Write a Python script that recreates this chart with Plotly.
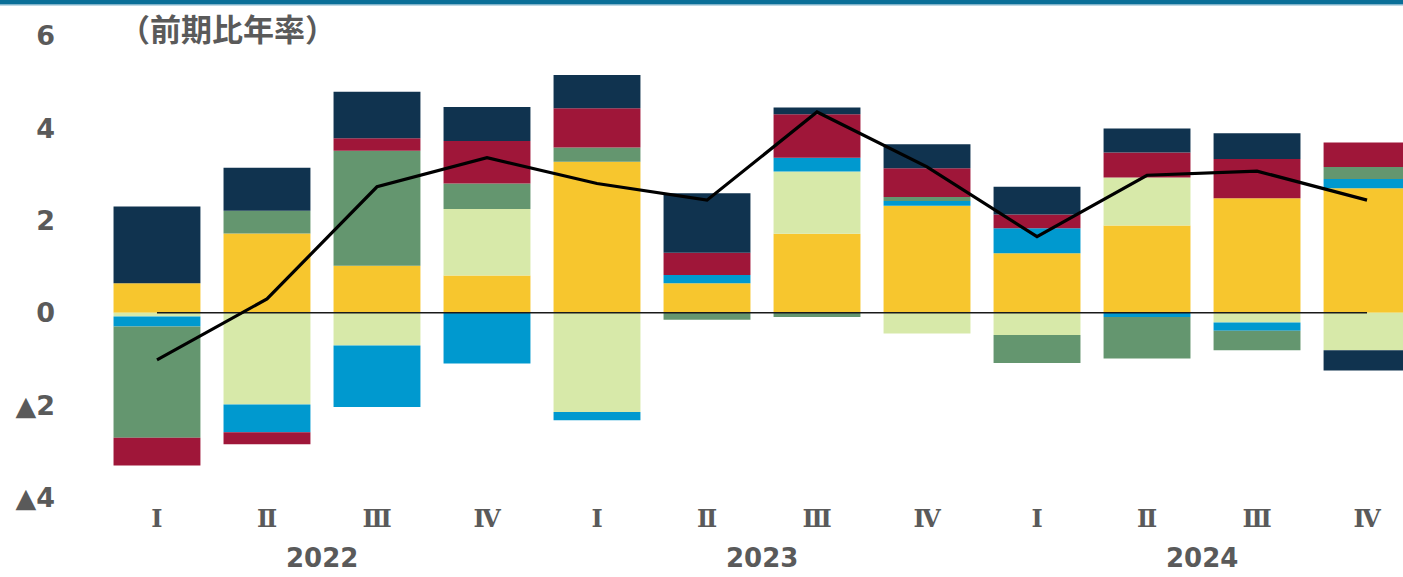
import plotly.graph_objects as go

# ---- data ----
quarters = ["Ⅰ", "Ⅱ", "Ⅲ", "Ⅳ", "Ⅰ", "Ⅱ", "Ⅲ", "Ⅳ", "Ⅰ", "Ⅱ", "Ⅲ", "Ⅳ"]
years = ["2022", "2023", "2024"]

yellow = [0.64, 1.72, 1.02, 0.81, 3.27, 0.64, 1.71, 2.32, 1.29, 1.89, 2.48, 2.70]
lightgreen = [-0.08, -1.99, -0.71, 1.44, -2.15, 0.0, 1.35, -0.45, -0.48, 1.04, -0.21, -0.81]
blue = [-0.22, -0.60, -1.33, -1.10, -0.18, 0.18, 0.30, 0.10, 0.54, -0.09, -0.18, 0.20]
green = [-2.41, 0.49, 2.49, 0.55, 0.31, -0.15, -0.09, 0.09, -0.61, -0.90, -0.42, 0.26]
crimson = [-0.60, -0.26, 0.27, 0.92, 0.85, 0.48, 0.94, 0.62, 0.30, 0.54, 0.85, 0.53]
navy = [1.66, 0.93, 1.01, 0.74, 0.72, 1.29, 0.15, 0.52, 0.60, 0.52, 0.56, -0.44]
total = [-1.02, 0.30, 2.73, 3.36, 2.80, 2.44, 4.35, 3.16, 1.65, 2.98, 3.07, 2.44]
zero = [0] * 12

y_tickvals = [-4, -2, 0, 2, 4, 6]
y_ticktext = ["▲4", "▲2", "0", "2", "4", "6"]

x = list(range(len(quarters)))

series = [
    (yellow, "#F7C62E"),
    (lightgreen, "#D7E9A9"),
    (blue, "#0099CF"),
    (green, "#64966F"),
    (crimson, "#9F1639"),
    (navy, "#10334F"),
]

FONT = "DejaVu Sans, Noto Sans CJK JP"
JP = "Noto Sans CJK JP"
GRAY = "#5A5A5A"

fig = go.Figure()
for vals, col in series:
    fig.add_trace(go.Bar(x=x, y=vals, marker=dict(color=col, line=dict(width=0)),
                         width=0.79, showlegend=False))

fig.add_trace(go.Scatter(x=x, y=zero, mode="lines",
                         line=dict(color="#1a1a1a", width=1.6), showlegend=False))
fig.add_trace(go.Scatter(x=x, y=total, mode="lines",
                         line=dict(color="#000000", width=3.2), showlegend=False))

fig.update_layout(
    width=1403, height=577,
    margin=dict(l=100, r=0, t=22, b=75),
    barmode="relative",
    plot_bgcolor="white", paper_bgcolor="white",
    font=dict(family=FONT, color=GRAY),
    xaxis=dict(range=[-0.518, 11.327], tickvals=x, ticktext=quarters,
               showgrid=False, zeroline=False, showline=False, ticks="",
               tickfont=dict(size=24, color=GRAY, family="DejaVu Serif, Noto Sans CJK JP",
                             weight="bold")),
    yaxis=dict(range=[-4.1, 6.3], tickvals=y_tickvals, ticktext=y_ticktext,
               showgrid=False, zeroline=False, showline=False, ticks="",
               ticklabelstandoff=44,
               tickfont=dict(size=27, color=GRAY, family=FONT, weight="bold")),
)

# year labels
for i, yr in enumerate(years):
    fig.add_annotation(x=4 * i + 1.5, xref="x", y=-(558 - 502) / 480, yref="paper",
                       text=yr, showarrow=False, xanchor="center", yanchor="middle",
                       font=dict(size=26, color=GRAY, family=FONT, weight="bold"))

# unit label
fig.add_annotation(x=(117 - 100) / 1303, xref="paper", y=1 - (28 - 22) / 480, yref="paper",
                   text="（前期比年率）", showarrow=False, xanchor="left", yanchor="middle",
                   font=dict(size=31, color=GRAY, family=JP, weight="bold"))

# top stripe
fig.add_shape(type="rect", xref="paper", yref="paper",
              x0=-0.1, x1=1.01, y0=1 + 18 / 480, y1=1 + 23 / 480,
              fillcolor="#0A6F98", line=dict(width=0), layer="above")
fig.add_shape(type="rect", xref="paper", yref="paper",
              x0=-0.1, x1=1.01, y0=1 + 16.5 / 480, y1=1 + 18 / 480,
              fillcolor="#7FB3CB", line=dict(width=0), layer="above")

fig.write_html("out.html", config={"displayModeBar": False},
               post_script="document.body.style.margin='0px';document.body.style.padding='0px';")
